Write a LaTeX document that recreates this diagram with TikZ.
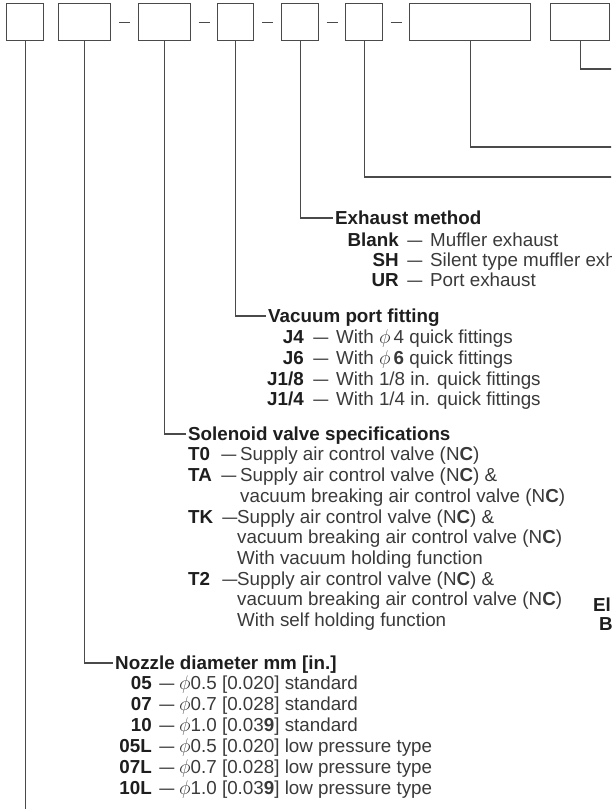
\documentclass[tikz,border=0pt]{standalone}
\usepackage{fontspec}
\setmainfont{Liberation Sans}
\usetikzlibrary{calc}
\definecolor{ln}{HTML}{4A4A4A}
\definecolor{bt}{HTML}{1E1E1E}
\definecolor{rt}{HTML}{3A3A3A}
\newcommand\fsz{\fontsize{18.8}{21}\selectfont}
\newcommand\dsh{\scalebox{0.8}[1]{—}}
\newcommand\nc{(N\textbf{C})}
\newcommand\dia{\scalebox{1.15}{$\phi$}}
\tikzset{
  box/.style={draw=ln, line width=1.2pt, inner sep=0pt, minimum height=37pt, anchor=north west},
  conn/.style={draw=ln, line width=1.1pt},
  hdr/.style={anchor=west, inner xsep=2pt, inner ysep=0pt, text height=13.5pt, text depth=0pt, font=\fsz\bfseries, text=bt},
  cr/.style={anchor=base east, inner sep=0pt, font=\fsz\bfseries, text=bt},
  cl/.style={anchor=base west, inner sep=0pt, font=\fsz\bfseries, text=bt},
  ds/.style={anchor=base west, inner sep=0pt, font=\fsz, text=rt},
  dh/.style={anchor=base, inner sep=0pt, font=\fsz, text=rt}
}
\begin{document}
\begin{tikzpicture}[x=1pt,y=-1pt]
\useasboundingbox (0,0) rectangle (611,809);
\fill[white] (0,0) rectangle (611,809);
\clip (0,0) rectangle (611,809);
% boxes
\node[box, minimum width=37pt] (b1) at (6,3) {};
\node[box, minimum width=52pt] (b2) at (58,3) {};
\node[box, minimum width=52pt] (b3) at (138,3) {};
\node[box, minimum width=36pt] (b4) at (217,3) {};
\node[box, minimum width=37pt] (b5) at (281,3) {};
\node[box, minimum width=37pt] (b6) at (345,3) {};
\node[box, minimum width=121pt] (b7) at (409,3) {};
\node[box, minimum width=59pt] (b8) at (550,3) {};
% separators
\foreach \a/\b in {b2/b3,b3/b4,b4/b5,b5/b6,b6/b7}{
  \coordinate (m\a) at ($(\a.east)!0.5!(\b.west)$);
  \draw[conn] ([xshift=-5.5pt]m\a) -- ([xshift=5.5pt]m\a);
}
% Exhaust method
\node[hdr] (exh) at (333,218) {Exhaust method};
\node[cr] (exc1) at (399,246) {Blank}; \node[dh] (exd1) at (415,246) {\dsh}; \node[ds] (ext1) at (430,246) {Muffler exhaust};
\node[cr] (exc2) at (399,266) {SH}; \node[dh] (exd2) at (415,266) {\dsh}; \node[ds] (ext2) at (430,266) {Silent type muffler exhau};
\node[cr] (exc3) at (399,286) {UR}; \node[dh] (exd3) at (415,286) {\dsh}; \node[ds] (ext3) at (430,286) {Port exhaust};
% Vacuum port fitting
\node[hdr] (vac) at (266,316) {Vacuum port fitting};
\node[cr] (vc1) at (304,343) {J4}; \node[dh] (vd1) at (321,343) {\dsh}; \node[ds] (vt1) at (336,343) {With \dia\,4 quick fittings};
\node[cr] (vc2) at (304,364) {J6}; \node[dh] (vd2) at (321,364) {\dsh}; \node[ds] (vt2) at (336,364) {With \dia\,\textbf{6} quick fittings};
\node[cr] (vc3) at (304,385) {J1/8}; \node[dh] (vd3) at (321,385) {\dsh}; \node[ds] (vt3) at (336,385) {With 1/8 in. quick fittings};
\node[cr] (vc4) at (304,405) {J1/4}; \node[dh] (vd4) at (321,405) {\dsh}; \node[ds] (vt4) at (336,405) {With 1/4 in. quick fittings};
% Solenoid valve specifications
\node[hdr] (sol) at (186,434) {Solenoid valve specifications};
\node[cl] (sc1) at (188,460) {T0}; \node[dh] (sd1) at (229,460) {\dsh}; \node[ds] (st1) at (240,460) {Supply air control valve \nc};
\node[cl] (sc2) at (188,481) {TA}; \node[dh] (sd2) at (229,481) {\dsh}; \node[ds] (st2) at (240,481) {Supply air control valve \nc{} \&};
\node[ds] (st2b) at (240,502) {vacuum breaking air control valve \nc};
\node[cl] (sc3) at (188,523) {TK}; \node[dh] (sd3) at (230,523) {\dsh}; \node[ds] (st3) at (237,523) {Supply air control valve \nc{} \&};
\node[ds] (st3b) at (237,543) {vacuum breaking air control valve \nc};
\node[ds] (st3c) at (237,564) {With vacuum holding function};
\node[cl] (sc4) at (188,585) {T2}; \node[dh] (sd4) at (230,585) {\dsh}; \node[ds] (st4) at (237,585) {Supply air control valve \nc{} \&};
\node[ds] (st4b) at (237,605) {vacuum breaking air control valve \nc};
\node[ds] (st4c) at (237,626) {With self holding function};
% cut-off labels at the right edge
\node[cl] (el) at (593,611) {El};
\node[cl] (bb) at (599,630) {B};
% Nozzle diameter
\node[hdr] (noz) at (113,663) {Nozzle diameter mm [in.]};
\node[cr] (nc1) at (152,689) {05}; \node[dh] (nd1) at (167,689) {\dsh}; \node[ds] (nt1) at (179,689) {\dia0.5 [0.020] standard};
\node[cr] (nc2) at (152,710) {07}; \node[dh] (nd2) at (167,710) {\dsh}; \node[ds] (nt2) at (179,710) {\dia0.7 [0.028] standard};
\node[cr] (nc3) at (152,731) {10}; \node[dh] (nd3) at (167,731) {\dsh}; \node[ds] (nt3) at (179,731) {\dia1.0 [0.03\textbf{9}] standard};
\node[cr] (nc4) at (152,752) {05L}; \node[dh] (nd4) at (167,752) {\dsh}; \node[ds] (nt4) at (179,752) {\dia0.5 [0.020] low pressure type};
\node[cr] (nc5) at (152,773) {07L}; \node[dh] (nd5) at (167,773) {\dsh}; \node[ds] (nt5) at (179,773) {\dia0.7 [0.028] low pressure type};
\node[cr] (nc6) at (152,794) {10L}; \node[dh] (nd6) at (167,794) {\dsh}; \node[ds] (nt6) at (179,794) {\dia1.0 [0.03\textbf{9}] low pressure type};
% connectors
\coordinate (bot) at (0,812);
\coordinate (r6) at (614,177);
\coordinate (r7) at (614,147);
\coordinate (r8) at (614,69);
\draw[conn] (b1.south) -- (b1.south |- bot);
\draw[conn] (b2.south) |- (noz.west);
\draw[conn] (b3.south) |- (sol.west);
\draw[conn] (b4.south) |- (vac.west);
\draw[conn] (b5.south) |- (exh.west);
\draw[conn] (b6.south) |- (r6);
\draw[conn] (b7.south) |- (r7);
\draw[conn] (b8.south) |- (r8);
\end{tikzpicture}
\end{document}
